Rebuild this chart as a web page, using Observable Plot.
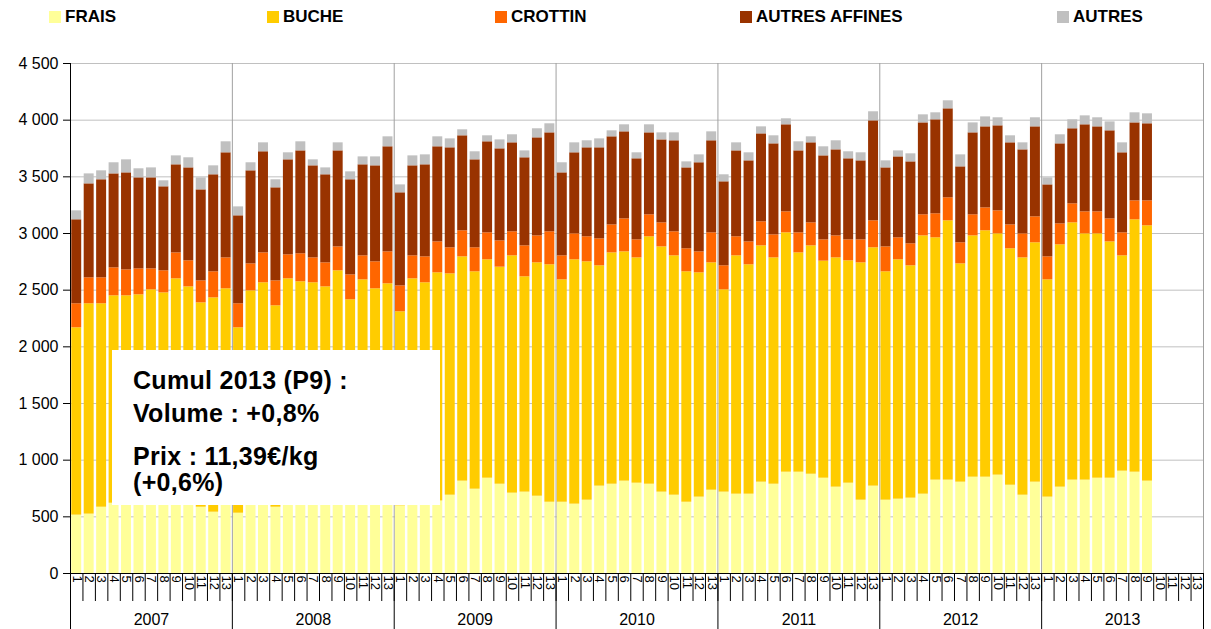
<!DOCTYPE html>
<html>
<head>
<meta charset="utf-8">
<script src="https://cdn.jsdelivr.net/npm/d3@7"></script>
<script src="https://cdn.jsdelivr.net/npm/@observablehq/plot@0.6"></script>
<style>
  body { margin: 0; background: white; font-family: Arial, "Liberation Sans", sans-serif; }
  #wrap { position: relative; width: 1211px; height: 629px; overflow: hidden; }
  #legend { position: absolute; left: 0; top: 0; width: 1211px; height: 36px; }
  .item { position: absolute; top: 8px; height: 18px; display: flex; align-items: center; font-weight: bold; font-size: 17px; color: #000; white-space: nowrap; }
  .sw { width: 12px; height: 12px; margin-right: 4px; }
  #chart { position: absolute; left: 0; top: 36px; }
  #note { position: absolute; left: 112px; top: 350px; width: 328px; height: 155px; background: white; }
  #note div { position: absolute; left: 21px; font-weight: bold; font-size: 25px; line-height: 28px; color: #000; white-space: nowrap; letter-spacing: 0.3px; }
</style>
</head>
<body>
<div id="wrap">
  <div id="legend"></div>
  <div id="chart"></div>
  <div id="note"></div>
</div>
<script>
// ---------- data ----------
const years = [2007, 2008, 2009, 2010, 2011, 2012, 2013];
const periods = [1,2,3,4,5,6,7,8,9,10,11,12,13];
const seriesNames = ["FRAIS", "BUCHE", "CROTTIN", "AUTRES AFFINES", "AUTRES"];
const seriesColors = ["#FFFF99", "#FFCC00", "#FF6600", "#993300", "#C0C0C0"];

const frais = [
  515,524,585,620,630,640,650,640,650,640,585,541,620,
  532,600,620,585,640,650,630,630,660,620,640,620,640,
  597,620,630,640,691,815,744,841,788,709,718,682,629,
  629,612,647,771,788,815,797,788,718,691,629,674,735,
  718,700,700,806,788,894,894,876,841,762,797,647,771,
  647,656,665,700,824,824,806,850,850,868,779,691,806,
  674,762,824,824,841,841,903,894,815
];
const buche = [
  1653,1856,1795,1830,1820,1819,1853,1836,1950,1889,1803,1891,1892,
  1636,1894,1945,1777,1960,1924,1935,1899,2011,1795,1951,1892,1916,
  1712,1980,1935,2013,1953,1979,1918,1927,1915,2094,1900,2059,2095,
  1962,2156,2103,1944,2041,2023,1988,2183,2164,2112,2033,1979,2006,
  1785,2103,2024,2085,1997,2112,1935,2015,1915,2023,1962,2094,2103,
  2015,2112,2050,2279,2138,2288,1926,2129,2174,2129,2086,2094,2112,
  1917,2138,2270,2173,2156,2085,1900,2227,2253
];
const crottin = [
  212,229,229,247,229,229,185,195,229,230,194,230,273,
  212,238,264,220,212,247,220,212,211,220,212,238,282,
  229,203,229,273,230,230,212,238,232,212,273,238,291,
  212,229,221,238,247,291,159,194,212,212,203,185,265,
  212,168,202,212,203,185,177,203,188,194,185,203,238,
  220,194,194,186,212,203,186,186,202,203,211,212,229,
  203,185,168,194,194,203,203,167,220
];
const affines = [
  741,829,865,829,856,803,803,741,777,820,803,856,927,
  776,821,892,821,838,908,812,777,847,839,803,847,927,
  821,794,812,839,882,838,776,803,812,785,777,865,873,
  732,715,785,803,777,768,715,723,732,803,714,786,812,
  741,758,715,776,803,768,723,706,741,759,715,697,882,
  697,714,723,811,829,785,670,723,715,750,724,741,794,
  635,706,662,768,750,777,706,688,680
];
const autres = [
  79,88,79,98,115,80,88,53,79,89,106,79,97,
  79,71,79,71,62,80,53,61,71,70,70,79,88,
  70,88,88,88,79,53,71,53,79,71,61,80,80,
  89,88,62,79,53,62,53,71,62,70,53,70,79,
  62,71,71,62,71,53,80,53,80,80,62,71,80,
  62,53,71,71,62,71,106,88,88,71,62,62,80,
  62,80,79,79,80,79,88,89,88
];
const yTicks = [0,500,1000,1500,2000,2500,3000,3500,4000,4500];
const noteLines = ["Cumul 2013 (P9) :", "Volume : +0,8%", "Prix : 11,39€/kg", "(+0,6%)"];

// ---------- build ----------
const keys = [];
for (const y of years) for (const p of periods) keys.push(`${y}-${p}`);
const seriesValues = [frais, buche, crottin, affines, autres];
const rows = [];
seriesValues.forEach((vals, s) => {
  vals.forEach((v, i) => rows.push({key: keys[i], series: seriesNames[s], value: v}));
});

const W = 1211, H = 593, mL = 70, mR = 8, mT = 27, mB = 56;
const step = (W - mL - mR) / keys.length;
const yearStarts = years.map(y => `${y}-1`);
const yearMids = years.map(y => `${y}-7`);
const lastKey = keys[keys.length - 1];
const fmt = d => d3.format(",")(d).replace(/,/g, " ");

const chart = Plot.plot({
  width: W, height: H,
  marginLeft: mL, marginRight: mR, marginTop: mT, marginBottom: mB,
  style: {fontFamily: "Arial, 'Liberation Sans', sans-serif", background: "white", color: "black", overflow: "visible"},
  x: {type: "band", domain: keys, paddingInner: 0.2, paddingOuter: 0.1, label: null},
  y: {domain: [0, 4500], label: null},
  color: {domain: seriesNames, range: seriesColors},
  marks: [
    Plot.gridY({ticks: yTicks, stroke: "#c0c0c0", strokeOpacity: 1}),
    Plot.ruleX(yearStarts.slice(1), {dx: -step / 2, stroke: "#a0a0a0"}),
    Plot.ruleX([lastKey], {dx: step / 2, stroke: "#a0a0a0"}),
    Plot.barY(rows, {x: "key", y: "value", fill: "series", order: seriesNames}),
    Plot.ruleX([keys[0]], {dx: -step / 2, stroke: "black"}),
    Plot.ruleY([0], {stroke: "black"}),
    Plot.axisY({ticks: yTicks, tickFormat: fmt, tickSize: 7, tickPadding: 5, fontSize: 16, label: null}),
    Plot.axisX({ticks: keys, tickSize: 28, tickFormat: () => "", dx: -step / 2, label: null}),
    Plot.axisX({ticks: yearStarts, tickSize: 60, tickFormat: () => "", dx: -step / 2, label: null}),
    Plot.axisX({ticks: [lastKey], tickSize: 60, tickFormat: () => "", dx: step / 2, label: null}),
    Plot.axisX({ticks: keys, tickSize: 0, tickPadding: 2, tickRotate: 90, fontSize: 13, tickFormat: k => k.split("-")[1], label: null}),
    Plot.axisX({ticks: yearMids, tickSize: 0, tickPadding: 40, fontSize: 16, tickFormat: k => k.split("-")[0], label: null})
  ]
});
document.getElementById("chart").appendChild(chart);

// legend
const legendLefts = [49, 267, 495, 740, 1057];
const legend = document.getElementById("legend");
seriesNames.forEach((name, i) => {
  const it = document.createElement("div");
  it.className = "item";
  it.style.left = legendLefts[i] + "px";
  it.innerHTML = `<span class="sw" style="background:${seriesColors[i]}"></span><span>${name}</span>`;
  legend.appendChild(it);
});

// annotation
const noteTops = [16, 49, 92, 118];
const note = document.getElementById("note");
noteLines.forEach((t, i) => {
  const d = document.createElement("div");
  d.style.top = noteTops[i] + "px";
  d.textContent = t;
  note.appendChild(d);
});
</script>
</body>
</html>
